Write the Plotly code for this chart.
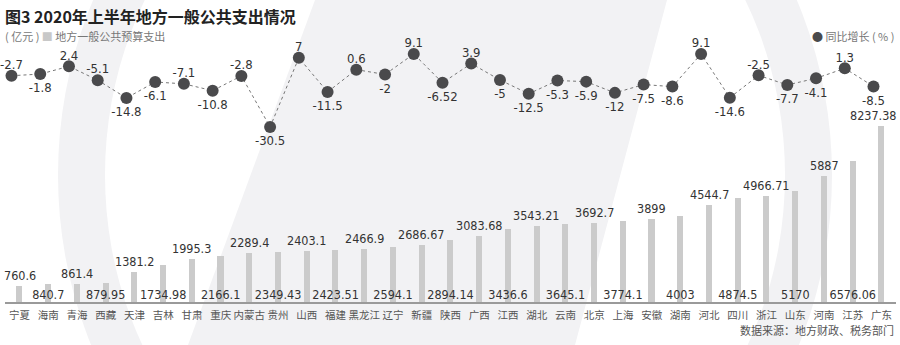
import plotly.graph_objects as go

# 2020 H1 local general public budget expenditure by province (100 million yuan)
provinces = ["宁夏", "海南", "青海", "西藏", "天津", "吉林", "甘肃", "重庆", "内蒙古", "贵州",
             "山西", "福建", "黑龙江", "辽宁", "新疆", "陕西", "广西", "江西", "湖北", "云南",
             "北京", "上海", "安徽", "湖南", "河北", "四川", "浙江", "山东", "河南", "江苏", "广东"]
expenditure = [760.6, 840.7, 861.4, 879.95, 1381.2, 1734.98, 1995.3, 2166.1, 2289.4, 2349.43,
               2403.1, 2423.51, 2466.9, 2594.1, 2686.67, 2894.14, 3083.68, 3436.6, 3543.21, 3645.1,
               3692.7, 3774.1, 3899, 4003, 4544.7, 4874.5, 4966.71, 5170, 5887, 6576.06, 8237.38]
# year-on-year growth (%)
growth = [-2.7, -1.8, 2.4, -5.1, -14.8, -6.1, -7.1, -10.8, -2.8, -30.5,
          7, -11.5, 0.6, -2, 9.1, -6.52, 3.9, -5, -12.5, -5.3,
          -5.9, -12, -7.5, -8.6, 9.1, -14.6, -2.5, -7.7, -4.1, 1.3, -8.5]

# label placement for the growth line (t = above the dot, b = below)
growth_label_side = list("tbttbbtbtbtbtbtbtbbbbbbbtbtbbtb")

W, H = 900, 345
NUM_FONT = "Liberation Sans Narrow, DejaVu Sans Condensed, Roboto, sans-serif"
CJK_FONT = "Noto Sans CJK SC, sans-serif"
BG_GRAY = "#f2f2f4"
TEXT_DARK = "#333333"

def px(x):
    return x / W

def py(y):
    return 1 - y / H

n = len(provinces)
idx = list(range(n))

fig = go.Figure()

# bars
fig.add_trace(go.Bar(
    x=provinces, y=expenditure, width=0.21,
    marker=dict(color="#cbcbcb", line=dict(width=0)),
    hoverinfo="skip", showlegend=False,
))

# bar value labels: alternate between above the bar and down at the baseline
bar_label_font = dict(family=NUM_FONT, size=12.5, color=TEXT_DARK)
low_x = [p for i, p in enumerate(provinces) if i % 2 == 1]
low_v = [v for i, v in enumerate(expenditure) if i % 2 == 1]
fig.add_trace(go.Scatter(
    x=low_x, y=[0] * len(low_x), mode="text", text=[f"{v:g}" for v in low_v],
    textposition="top center", textfont=bar_label_font,
    hoverinfo="skip", showlegend=False, cliponaxis=False,
))

# growth line with dots
fig.add_trace(go.Scatter(
    x=idx, y=growth, xaxis="x2", yaxis="y2", mode="lines+markers",
    line=dict(color="#777777", width=1, dash="dot"),
    marker=dict(size=12, color="#4a4a4c", line=dict(width=0)),
    hoverinfo="skip", showlegend=False, cliponaxis=False,
))
# growth value labels (transparent anchors set the gap to the dot)
fig.add_trace(go.Scatter(
    x=idx, y=growth, xaxis="x2", yaxis="y2", mode="markers+text",
    marker=dict(size=[4 if s == "t" else 12 for s in growth_label_side],
                color="rgba(0,0,0,0)", line=dict(width=0)),
    text=[f"{v:g}" for v in growth],
    textposition=["top center" if s == "t" else "bottom center" for s in growth_label_side],
    textfont=dict(family=NUM_FONT, size=13, color=TEXT_DARK),
    hoverinfo="skip", showlegend=False, cliponaxis=False,
))

# decorative background: large ring with a diagonal slash
ring_outer = dict(x0=px(58), x1=px(832), y0=py(175 - 420), y1=py(175 + 420))
ring_inner = dict(x0=px(105), x1=px(785), y0=py(175 - 373), y1=py(175 + 373))
shapes = [
    dict(type="circle", xref="paper", yref="paper", layer="below",
         fillcolor=BG_GRAY, line=dict(width=0), **ring_outer),
    dict(type="circle", xref="paper", yref="paper", layer="below",
         fillcolor="white", line=dict(width=0), **ring_inner),
    dict(type="path", xref="paper", yref="paper", layer="below",
         fillcolor=BG_GRAY, line=dict(width=0),
         path=f"M {px(315)} {py(0)} L {px(667)} {py(0)} L {px(575)} {py(345)} L {px(188)} {py(345)} Z"),
]

annotations = [
    dict(text="<b>图3 2020年上半年地方一般公共支出情况</b>", x=px(3), y=py(16),
         xref="paper", yref="paper", xanchor="left", yanchor="middle", showarrow=False,
         font=dict(family=CJK_FONT, size=16, color="#222222")),
    dict(text="( 亿元 ) <span style='color:#c8c8c8'>■</span> 地方一般公共预算支出",
         x=px(3), y=py(36), xref="paper", yref="paper", xanchor="left", yanchor="middle",
         showarrow=False, font=dict(family=CJK_FONT, size=11, color="#777777")),
    dict(text="<span style='color:#4a4a4c'>●</span> 同比增长 ( % )",
         x=px(896), y=py(36), xref="paper", yref="paper", xanchor="right", yanchor="middle",
         showarrow=False, font=dict(family=CJK_FONT, size=11, color="#777777")),
    dict(text="数据来源：地方财政、税务部门",
         x=px(896), y=py(330), xref="paper", yref="paper", xanchor="right", yanchor="middle",
         showarrow=False, font=dict(family=CJK_FONT, size=11, color="#555555")),
]

# labels above every other bar; the last one is nudged in from the right edge
for i, (p, v) in enumerate(zip(provinces, expenditure)):
    if i % 2 == 0:
        annotations.append(dict(
            text=f"{v:g}", x=p, y=v, xref="x", yref="y", xanchor="center", yanchor="bottom",
            yshift=1, xshift=-8 if i == n - 1 else 0, showarrow=False, font=bar_label_font))

x_domain = [px(5.13), px(895.87)]
fig.update_layout(
    width=W, height=H, margin=dict(l=0, r=0, t=0, b=0),
    paper_bgcolor="white", plot_bgcolor="rgba(0,0,0,0)",
    shapes=shapes, annotations=annotations, bargap=0,
    xaxis=dict(domain=x_domain, type="category", range=[-0.5, n - 0.5],
               showline=True, linecolor="#9a9a9a", linewidth=1.5,
               showgrid=False, zeroline=False, ticks="", tickangle=0, ticklabelstandoff=3,
               tickfont=dict(family=CJK_FONT, size=10.5, color="#555555"), fixedrange=True),
    yaxis=dict(domain=[43 / H, 1], range=[0, 14120], visible=False, fixedrange=True),
    xaxis2=dict(overlaying="x", range=[-0.2216, n - 0.2216], visible=False, fixedrange=True),
    yaxis2=dict(overlaying="y", range=[-125.5, 38.4], visible=False, fixedrange=True),
)

fig.write_html("out.html")
